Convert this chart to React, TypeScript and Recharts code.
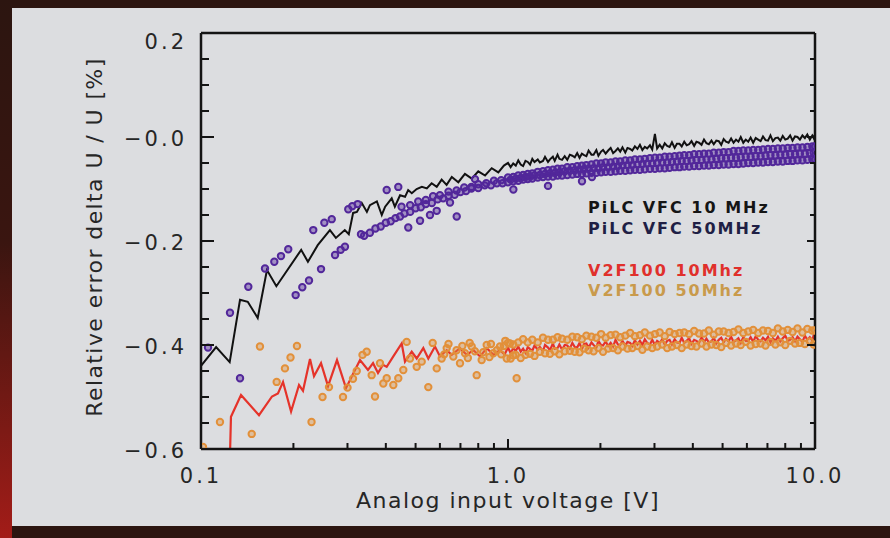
import React from 'react';
import { ComposedChart, Line, Scatter, XAxis, YAxis } from 'recharts';

// axis ticks
const xTicks = [0.1, 0.2, 0.3, 0.4, 0.5, 0.6, 0.7, 0.8, 0.9, 1, 2, 3, 4, 5, 6, 7, 8, 9, 10];
const xMajor = [0.1, 1, 10];
const xTickLabels: Record<string, string> = { '0.1': '0.1', '1': '1.0', '10': '10.0' };
const yTicks = [-0.6, -0.55, -0.5, -0.45, -0.4, -0.35, -0.3, -0.25, -0.2, -0.15, -0.1, -0.05, 0, 0.05, 0.1, 0.15, 0.2];
const yMajor = [-0.6, -0.4, -0.2, 0, 0.2];
const yTickLabels: Record<string, string> = { '-0.6': '\u22120.6', '-0.4': '\u22120.4', '-0.2': '\u22120.2', '0': '\u22120.0', '0.2': '0.2' };

const seriesNames = ['PiLC VFC 10 MHz', 'PiLC VFC 50MHz', 'V2F100 10Mhz', 'V2F100 50Mhz'];
const seriesColors = ['#111111', '#52279a', '#e5332a', '#e2903a'];
const legendColors = ['#151515', '#1f1f45', '#e0302c', '#c99a4c'];

// sample voltages of the dense part (1 V .. 10 V), two interleaved sets
const bandXa = [
  1.0, 1.04, 1.08, 1.12, 1.16, 1.2, 1.25, 1.3, 1.35, 1.4, 1.45, 1.5, 1.56, 1.62, 1.68, 1.74,
  1.8, 1.87, 1.94, 2.01, 2.08, 2.16, 2.24, 2.32, 2.41, 2.5, 2.59, 2.69, 2.79, 2.9, 3.01, 3.12,
  3.24, 3.36, 3.49, 3.62, 3.75, 3.89, 4.04, 4.19, 4.35, 4.51, 4.68, 4.86, 5.04, 5.23, 5.43, 5.63,
  5.84, 6.06, 6.29, 6.53, 6.77, 7.03, 7.29, 7.57, 7.85, 8.15, 8.45, 8.77, 9.1, 9.44, 9.8, 10.0,
];
const bandXb = [
  1.02, 1.06, 1.1, 1.14, 1.18, 1.22, 1.27, 1.32, 1.37, 1.42, 1.47, 1.53, 1.59, 1.65, 1.71, 1.77,
  1.83, 1.9, 1.97, 2.04, 2.12, 2.2, 2.28, 2.36, 2.45, 2.54, 2.64, 2.74, 2.84, 2.95, 3.06, 3.18,
  3.3, 3.42, 3.55, 3.68, 3.82, 3.96, 4.11, 4.27, 4.43, 4.6, 4.77, 4.95, 5.13, 5.33, 5.53, 5.73,
  5.95, 6.17, 6.41, 6.65, 6.9, 7.16, 7.43, 7.71, 8.0, 8.3, 8.61, 8.93, 9.27, 9.62, 9.9,
];

// PiLC VFC 10 MHz (line), below 1 V
const pilc10Low: number[][] = [
  [0.1, -0.44], [0.112, -0.404], [0.124, -0.433], [0.134, -0.313], [0.142, -0.317], [0.153, -0.348],
  [0.164, -0.256], [0.176, -0.287], [0.212, -0.217], [0.223, -0.24], [0.24, -0.208], [0.263, -0.179],
  [0.275, -0.194], [0.294, -0.179], [0.303, -0.187], [0.313, -0.146], [0.322, -0.144], [0.334, -0.127],
  [0.347, -0.144], [0.355, -0.131], [0.374, -0.124], [0.388, -0.15], [0.398, -0.134], [0.418, -0.118],
  [0.428, -0.134], [0.445, -0.112], [0.462, -0.115], [0.473, -0.102], [0.486, -0.108], [0.504, -0.1],
  [0.524, -0.096], [0.544, -0.099], [0.564, -0.089], [0.586, -0.096], [0.608, -0.082], [0.631, -0.092],
  [0.656, -0.077], [0.689, -0.087], [0.724, -0.071], [0.762, -0.08], [0.8, -0.066], [0.842, -0.074],
  [0.885, -0.06], [0.93, -0.068], [0.97, -0.055],
];
// PiLC VFC 10 MHz, dense part (on bandXa/bandXb interleaved)
const pilc10High = [
  -0.05, -0.058, -0.051, -0.055, -0.045, -0.053, -0.056, -0.046, -0.048, -0.053,
  -0.042, -0.048, -0.043, -0.049, -0.046, -0.038, -0.048, -0.043, -0.038, -0.046,
  -0.034, -0.042, -0.044, -0.037, -0.044, -0.034, -0.036, -0.039, -0.031, -0.04,
  -0.032, -0.035, -0.037, -0.026, -0.034, -0.034, -0.025, -0.036, -0.028, -0.025,
  -0.032, -0.026, -0.021, -0.031, -0.027, -0.022, -0.028, -0.02, -0.03, -0.021,
  -0.023, -0.026, -0.018, -0.023, -0.015, -0.025, -0.019, -0.022, -0.016, -0.024,
  0.006, -0.022, -0.015, -0.022, -0.012, -0.017, -0.019, -0.01, -0.021, -0.013,
  -0.013, -0.018, -0.009, -0.016, -0.014, -0.008, -0.017, -0.009, -0.011, -0.015,
  -0.005, -0.012, -0.014, -0.007, -0.014, -0.007, -0.008, -0.015, -0.004, -0.009,
  -0.011, -0.003, -0.011, -0.005, -0.009, 0.0, -0.011, -0.005, -0.009, -0.001,
  -0.011, -0.002, -0.005, -0.008, 0.001, -0.006, -0.007, 0.003, -0.008, -0.002,
  -0.001, -0.007, 0.002, -0.005, -0.003, 0.003, -0.007, 0.001, 0.0, -0.005,
  0.003, -0.002, 0.005, -0.005, 0.003, -0.002, 0.005,
];

// PiLC VFC 50MHz (circles)
const pilc50Sparse: number[][] = [
  [0.1054, -0.405], [0.1243, -0.338], [0.134, -0.464], [0.1426, -0.288], [0.1616, -0.253], [0.1733, -0.24],
  [0.1822, -0.229], [0.1924, -0.216], [0.2034, -0.304], [0.2138, -0.289], [0.2248, -0.276], [0.2321, -0.179],
  [0.246, -0.254], [0.2522, -0.165], [0.2666, -0.158], [0.2733, -0.227], [0.2851, -0.217], [0.2944, -0.211],
  [0.3018, -0.139], [0.311, -0.133], [0.3239, -0.129], [0.332, -0.187], [0.4026, -0.102], [0.4392, -0.096],
  [0.4733, -0.174], [0.517, -0.161], [0.557, -0.15], [0.5859, -0.142], [0.6473, -0.126], [0.6807, -0.153],
  [0.7806, -0.081], [1.041, -0.101], [1.35, -0.094], [1.742, -0.085], [1.877, -0.077],
];
const pilc50Early: number[][] = [
  [0.34, -0.19], [0.355, -0.184], [0.37, -0.176], [0.385, -0.172], [0.4, -0.165], [0.415, -0.162],
  [0.43, -0.156], [0.445, -0.153], [0.46, -0.147], [0.48, -0.144], [0.5, -0.137], [0.52, -0.135],
  [0.54, -0.129], [0.565, -0.127], [0.59, -0.12], [0.615, -0.118], [0.64, -0.113], [0.67, -0.111],
  [0.7, -0.106], [0.73, -0.104], [0.76, -0.099], [0.8, -0.098], [0.84, -0.093], [0.88, -0.093],
  [0.92, -0.089], [0.96, -0.089],
  [0.45, -0.134], [0.48, -0.131], [0.51, -0.124], [0.54, -0.121], [0.57, -0.114], [0.6, -0.112],
  [0.64, -0.105], [0.68, -0.103], [0.72, -0.097], [0.76, -0.096], [0.8, -0.091], [0.85, -0.089],
  [0.9, -0.084], [0.95, -0.083],
];
const pilc50Upper = [
  -0.078, -0.077, -0.074, -0.073, -0.071, -0.07, -0.067, -0.066, -0.064, -0.063, -0.061, -0.061,
  -0.058, -0.058, -0.056, -0.055, -0.054, -0.053, -0.051, -0.051, -0.049, -0.049, -0.047, -0.047,
  -0.045, -0.045, -0.043, -0.043, -0.042, -0.041, -0.04, -0.04, -0.038, -0.038, -0.037, -0.036,
  -0.035, -0.035, -0.033, -0.033, -0.032, -0.032, -0.03, -0.03, -0.029, -0.029, -0.027, -0.027,
  -0.026, -0.026, -0.025, -0.025, -0.024, -0.023, -0.023, -0.022, -0.022, -0.021, -0.021, -0.02,
  -0.02, -0.019, -0.018, -0.018,
];
const pilc50Middle = [
  -0.082, -0.08, -0.079, -0.077, -0.076, -0.074, -0.073, -0.071, -0.07, -0.069, -0.068, -0.066,
  -0.065, -0.064, -0.063, -0.062, -0.061, -0.06, -0.06, -0.058, -0.058, -0.057, -0.056, -0.055,
  -0.054, -0.054, -0.053, -0.052, -0.051, -0.051, -0.05, -0.049, -0.049, -0.048, -0.047, -0.046,
  -0.046, -0.045, -0.044, -0.044, -0.043, -0.043, -0.042, -0.041, -0.041, -0.04, -0.04, -0.039,
  -0.038, -0.038, -0.037, -0.037, -0.036, -0.035, -0.035, -0.034, -0.034, -0.033, -0.033, -0.032,
  -0.032, -0.031, -0.03,
];
const pilc50Lower = [
  -0.087, -0.085, -0.084, -0.082, -0.081, -0.08, -0.078, -0.077, -0.076, -0.076, -0.074, -0.074,
  -0.073, -0.072, -0.071, -0.071, -0.07, -0.069, -0.069, -0.068, -0.067, -0.067, -0.066, -0.065,
  -0.065, -0.064, -0.063, -0.063, -0.062, -0.061, -0.061, -0.06, -0.06, -0.059, -0.058, -0.058,
  -0.057, -0.057, -0.056, -0.056, -0.055, -0.055, -0.054, -0.054, -0.053, -0.053, -0.052, -0.052,
  -0.051, -0.05, -0.05, -0.049, -0.049, -0.048, -0.048, -0.047, -0.047, -0.046, -0.046, -0.045,
  -0.045, -0.044, -0.043, -0.043,
];

// V2F100 10Mhz (line), below 1 V
const v2f10Low: number[][] = [
  [0.122, -0.8], [0.1252, -0.538], [0.135, -0.496], [0.1545, -0.535], [0.1703, -0.499], [0.1781, -0.493],
  [0.185, -0.471], [0.1965, -0.528], [0.2086, -0.477], [0.2149, -0.488], [0.2265, -0.427], [0.2334, -0.46],
  [0.246, -0.435], [0.2593, -0.479], [0.2773, -0.429], [0.2967, -0.483], [0.3174, -0.448], [0.3296, -0.429],
  [0.3499, -0.448], [0.3634, -0.435], [0.3772, -0.454], [0.3915, -0.438], [0.4026, -0.442], [0.4231, -0.422],
  [0.4506, -0.397], [0.4618, -0.432], [0.4857, -0.413], [0.5042, -0.426], [0.5298, -0.406], [0.55, -0.426],
  [0.5783, -0.403], [0.6004, -0.422], [0.6314, -0.41], [0.6556, -0.419], [0.6977, -0.406], [0.7337, -0.419],
  [0.7715, -0.41], [0.811, -0.422], [0.853, -0.406], [0.8966, -0.419], [0.9417, -0.41], [0.975, -0.418],
];
// V2F100 10Mhz, dense part (on bandXa/bandXb interleaved)
const v2f10High = [
  -0.405, -0.416, -0.406, -0.411, -0.403, -0.413, -0.407, -0.415, -0.404, -0.408,
  -0.411, -0.401, -0.409, -0.404, -0.412, -0.4, -0.405, -0.41, -0.397, -0.407,
  -0.406, -0.399, -0.409, -0.4, -0.401, -0.407, -0.396, -0.404, -0.405, -0.396,
  -0.408, -0.398, -0.397, -0.405, -0.395, -0.4, -0.405, -0.392, -0.4, -0.401,
  -0.393, -0.402, -0.396, -0.403, -0.39, -0.399, -0.4, -0.392, -0.401, -0.394,
  -0.396, -0.402, -0.391, -0.399, -0.392, -0.4, -0.389, -0.396, -0.399, -0.39,
  -0.4, -0.392, -0.396, -0.389, -0.399, -0.392, -0.39, -0.399, -0.389, -0.395,
  -0.396, -0.386, -0.396, -0.392, -0.387, -0.398, -0.39, -0.392, -0.396, -0.385,
  -0.394, -0.388, -0.395, -0.393, -0.386, -0.397, -0.39, -0.386, -0.395, -0.388,
  -0.393, -0.384, -0.394, -0.391, -0.387, -0.396, -0.385, -0.392, -0.392, -0.385,
  -0.394, -0.383, -0.39, -0.393, -0.386, -0.391, -0.384, -0.395, -0.387, -0.392,
  -0.384, -0.393, -0.387, -0.382, -0.392, -0.39, -0.385, -0.393, -0.384, -0.389,
  -0.394, -0.382, -0.39, -0.385, -0.391, -0.381, -0.389,
];

// V2F100 50Mhz (circles)
const v2f50Sparse: number[][] = [
  [0.1015, -0.596], [0.1153, -0.548], [0.1463, -0.571], [0.1556, -0.403], [0.1764, -0.471], [0.1877, -0.445],
  [0.1957, -0.424], [0.2054, -0.402], [0.2291, -0.548], [0.2488, -0.5], [0.2612, -0.481], [0.2901, -0.5],
  [0.3001, -0.482], [0.3127, -0.465], [0.3216, -0.45], [0.3358, -0.419], [0.3465, -0.413], [0.3597, -0.458],
  [0.3688, -0.499], [0.3829, -0.435], [0.3925, -0.474], [0.4026, -0.464], [0.4231, -0.477], [0.4392, -0.464],
  [0.456, -0.448], [0.4677, -0.394], [0.4796, -0.426], [0.5042, -0.442], [0.5235, -0.432], [0.55, -0.481],
  [0.5684, -0.396], [0.5859, -0.445], [0.6081, -0.426], [0.62, -0.418], [0.6314, -0.406], [0.64, -0.398],
  [0.6635, -0.422], [0.68, -0.41], [0.6977, -0.435], [0.71, -0.402], [0.7243, -0.416], [0.74, -0.425],
  [0.75, -0.396], [0.7617, -0.403], [0.78, -0.412], [0.7907, -0.458], [0.8209, -0.429], [0.83, -0.414],
  [0.8523, -0.4], [0.87, -0.423], [0.88, -0.398], [0.8958, -0.416], [0.92, -0.41], [0.9417, -0.403],
  [0.95, -0.418], [0.97, -0.402], [0.98, -0.392], [0.9904, -0.426], [1.015, -0.397], [1.04, -0.42],
  [1.067, -0.464],
];
const v2f50Upper = [
  -0.396, -0.399, -0.395, -0.389, -0.395, -0.39, -0.395, -0.386, -0.39, -0.39, -0.385, -0.388,
  -0.39, -0.384, -0.385, -0.389, -0.382, -0.384, -0.386, -0.379, -0.386, -0.381, -0.38, -0.385,
  -0.382, -0.377, -0.383, -0.381, -0.376, -0.382, -0.379, -0.376, -0.383, -0.375, -0.379, -0.377,
  -0.376, -0.379, -0.373, -0.378, -0.378, -0.372, -0.38, -0.374, -0.374, -0.377, -0.375, -0.37,
  -0.377, -0.374, -0.371, -0.377, -0.372, -0.373, -0.377, -0.368, -0.374, -0.371, -0.375, -0.368,
  -0.376, -0.369, -0.372, -0.372,
];
const v2f50Lower = [
  -0.426, -0.419, -0.425, -0.419, -0.417, -0.421, -0.413, -0.416, -0.417, -0.412, -0.418, -0.412,
  -0.411, -0.413, -0.414, -0.407, -0.41, -0.412, -0.406, -0.413, -0.407, -0.406, -0.41, -0.403,
  -0.407, -0.406, -0.402, -0.409, -0.403, -0.406, -0.403, -0.399, -0.406, -0.403, -0.4, -0.406,
  -0.399, -0.402, -0.403, -0.397, -0.403, -0.399, -0.4, -0.404, -0.396, -0.401, -0.397, -0.4,
  -0.394, -0.401, -0.398, -0.397, -0.401, -0.394, -0.399, -0.395, -0.4, -0.392, -0.397, -0.396,
  -0.398, -0.393, -0.399,
];

const toPts = (pairs: number[][]) => pairs.map(([x, y]) => ({ x, y }));
const zip = (xs: number[], ys: number[]) => xs.map((x, i) => ({ x, y: ys[i] }));
const lineX = [...bandXa, ...bandXb].sort((a, b) => a - b);

const pilc10Data = [...toPts(pilc10Low), ...zip(lineX, pilc10High)];
const pilc50Data = [
  ...toPts(pilc50Sparse),
  ...toPts(pilc50Early),
  ...zip(bandXa, pilc50Lower),
  ...zip(bandXb, pilc50Middle),
  ...zip(bandXa, pilc50Upper),
];
const v2f10Data = [...toPts(v2f10Low), ...zip(lineX, v2f10High)];
const v2f50Data = [...toPts(v2f50Sparse), ...zip(bandXb, v2f50Lower), ...zip(bandXa, v2f50Upper)];

const font = '"DejaVu Sans", sans-serif';
const ink = '#141414';
const textInk = '#262626';

const isMajor = (list: number[], v: number) => list.some((m) => Math.abs(m - v) < 1e-9);

const BottomTick = ({ x, y, payload }: any) => {
  const major = isMajor(xMajor, payload.value);
  return (
    <g>
      <line x1={x} x2={x} y1={y} y2={y - (major ? 10 : 6)} stroke={ink} strokeWidth={2} />
      {major && (
        <text x={x} y={y + 34} textAnchor="middle" fill={textInk} fontSize={21} fontFamily={font} style={{ letterSpacing: 3 }}>
          {xTickLabels[String(payload.value)]}
        </text>
      )}
    </g>
  );
};

const TopTick = ({ x, y, payload }: any) => {
  const major = isMajor(xMajor, payload.value);
  return <line x1={x} x2={x} y1={y} y2={y + (major ? 10 : 6)} stroke={ink} strokeWidth={2} />;
};

const LeftTick = ({ x, y, payload }: any) => {
  const major = isMajor(yMajor, payload.value);
  const label = yTickLabels[String(payload.value)];
  return (
    <g>
      <line x1={x} x2={x + (major ? 13 : 8)} y1={y} y2={y} stroke={ink} strokeWidth={2} />
      {major && (
        <text x={x - 14} y={y + (payload.value > 0.1 ? 16 : 9)} textAnchor="end" fill={textInk} fontSize={21} fontFamily={font} style={{ letterSpacing: 3 }}>
          {label}
        </text>
      )}
    </g>
  );
};

const RightTick = ({ x, y, payload }: any) => {
  const major = isMajor(yMajor, payload.value);
  return <line x1={x} x2={x - (major ? 8 : 5)} y1={y} y2={y} stroke={ink} strokeWidth={2} />;
};

const Ring = (color: string, opacity: number) => (props: any) => (
  <circle cx={props.cx} cy={props.cy} r={3.2} fill={color} fillOpacity={opacity} stroke={color} strokeWidth={2} />
);

export default function App() {
  return (
    <div style={{ position: 'absolute', left: 0, top: 0, width: 890, height: 538, background: '#2c1510', overflow: 'hidden' }}>
      <div style={{ position: 'absolute', left: 0, top: 0, width: 12, height: 538, background: 'linear-gradient(to bottom, #2c1510 0%, #3a1510 45%, #7d1a15 80%, #a31c18 100%)' }} />
      <div style={{ position: 'absolute', left: 12, top: 8, width: 878, height: 518, background: '#dcdde0' }} />

      <div style={{ position: 'absolute', left: 0, top: 0 }}>
        <ComposedChart width={890} height={538} margin={{ top: 23, right: 65, bottom: 59, left: 141 }}>
          <XAxis
            xAxisId="bottom"
            dataKey="x"
            type="number"
            scale="log"
            domain={[0.1, 10]}
            allowDataOverflow
            ticks={xTicks}
            interval={0}
            height={30}
            tickSize={0}
            tickMargin={0}
            tickLine={false}
            axisLine={{ stroke: ink, strokeWidth: 2.5 }}
            tick={<BottomTick />}
          />
          <XAxis
            xAxisId="top"
            orientation="top"
            type="number"
            scale="log"
            domain={[0.1, 10]}
            allowDataOverflow
            ticks={xTicks}
            interval={0}
            height={10}
            tickSize={0}
            tickMargin={0}
            tickLine={false}
            axisLine={{ stroke: ink, strokeWidth: 2.5 }}
            tick={<TopTick />}
          />
          <YAxis
            yAxisId="left"
            dataKey="y"
            type="number"
            domain={[-0.6, 0.2]}
            allowDataOverflow
            ticks={yTicks}
            interval={0}
            width={60}
            tickSize={0}
            tickMargin={0}
            tickLine={false}
            axisLine={{ stroke: ink, strokeWidth: 2.5 }}
            tick={<LeftTick />}
          />
          <YAxis
            yAxisId="right"
            orientation="right"
            type="number"
            domain={[-0.6, 0.2]}
            allowDataOverflow
            ticks={yTicks}
            interval={0}
            width={10}
            tickSize={0}
            tickMargin={0}
            tickLine={false}
            axisLine={{ stroke: ink, strokeWidth: 2.5 }}
            tick={<RightTick />}
          />
          <Scatter
            name={seriesNames[1]}
            xAxisId="bottom"
            yAxisId="left"
            data={pilc50Data}
            dataKey="y"
            shape={Ring(seriesColors[1], 0.42)}
            isAnimationActive={false}
          />
          <Line
            name={seriesNames[0]}
            xAxisId="bottom"
            yAxisId="left"
            data={pilc10Data}
            dataKey="y"
            type="linear"
            stroke={seriesColors[0]}
            strokeWidth={2}
            dot={false}
            isAnimationActive={false}
          />
          <Scatter
            name={seriesNames[3]}
            xAxisId="bottom"
            yAxisId="left"
            data={v2f50Data}
            dataKey="y"
            shape={Ring(seriesColors[3], 0.4)}
            isAnimationActive={false}
          />
          <Line
            name={seriesNames[2]}
            xAxisId="bottom"
            yAxisId="left"
            data={v2f10Data}
            dataKey="y"
            type="linear"
            stroke={seriesColors[2]}
            strokeWidth={2.2}
            dot={false}
            isAnimationActive={false}
          />
        </ComposedChart>
      </div>

      {/* legend labels */}
      {seriesNames.map((name, i) => (
        <div
          key={name}
          style={{
            position: 'absolute',
            left: 588,
            top: [199, 220, 262, 282][i],
            fontFamily: font,
            fontWeight: 'bold',
            fontSize: 16,
            lineHeight: '18px',
            letterSpacing: 2,
            color: legendColors[i],
            whiteSpace: 'nowrap',
          }}
        >
          {name}
        </div>
      ))}

      {/* axis titles */}
      <div style={{ position: 'absolute', left: 258, top: 492, width: 500, textAlign: 'center', fontFamily: font, fontSize: 22, lineHeight: '18px', letterSpacing: 1.5, color: textInk, whiteSpace: 'nowrap' }}>
        Analog input voltage [V]
      </div>
      <div style={{ position: 'absolute', left: 95 - 250, top: 237 - 13, width: 500, textAlign: 'center', fontFamily: font, fontSize: 22, lineHeight: '26px', letterSpacing: 1.4, color: textInk, whiteSpace: 'nowrap', transform: 'rotate(-90deg)', transformOrigin: '250px 13px' }}>
        Relative error delta U / U [%]
      </div>
    </div>
  );
}
